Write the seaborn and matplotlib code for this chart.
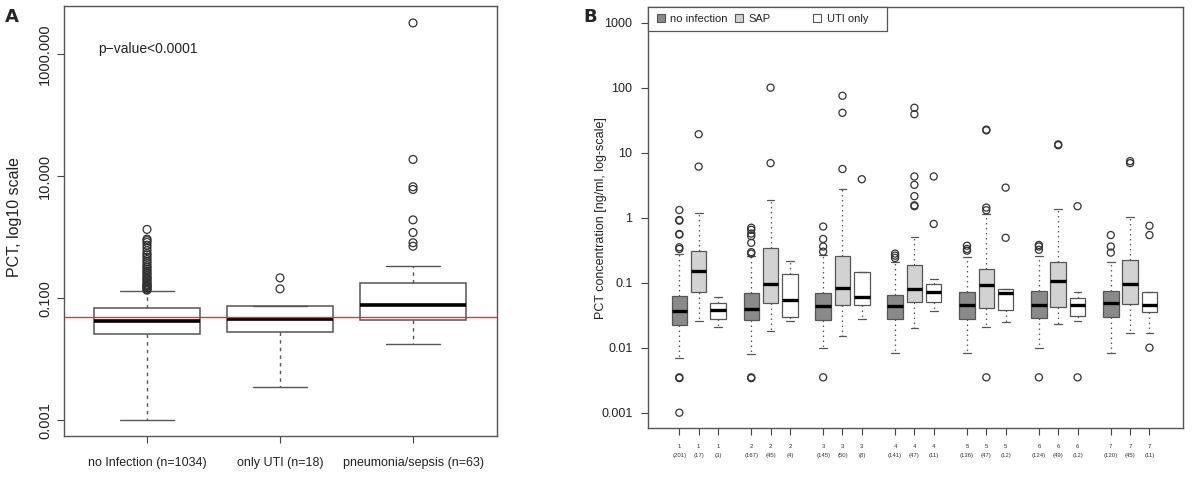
import numpy as np
import pandas as pd
import matplotlib
matplotlib.use("Agg")
import matplotlib.pyplot as plt
from matplotlib.patches import Rectangle
import seaborn as sns

sns.set_style("white")
plt.rcParams['font.family'] = ['Liberation Sans', 'DejaVu Sans']

# ── Panel A: PCT by infection group (box stats) ──
a_labels = ["no Infection (n=1034)", "only UTI (n=18)", "pneumonia/sepsis (n=63)"]
a_whislo = [0.001, 0.0035, 0.018]
a_q1 = [0.026, 0.028, 0.044]
a_med = [0.042, 0.045, 0.077]
a_q3 = [0.069, 0.075, 0.174]
a_whishi = [0.13, 0.075, 0.34]
a_fliers = [
    [0.135, 0.14, 0.145, 0.15, 0.155, 0.16, 0.165, 0.17, 0.18, 0.19, 0.2, 0.21,
     0.22, 0.235, 0.25, 0.265, 0.28, 0.3, 0.32, 0.34, 0.37, 0.4, 0.43, 0.47,
     0.51, 0.54, 0.6, 0.67, 0.74, 0.82, 0.88, 0.93, 1.34],
    [0.142, 0.215],
    [0.71, 0.81, 1.19, 1.92, 6.05, 6.7, 18.8, 3250],
]
a_cutoff = 0.05

# ── Panel B: PCT per day and group ──
b_days = [1, 2, 3, 4, 5, 6, 7]
b_groups = ["no infection", "SAP", "UTI only"]
b_n = {
    "no infection": [201, 167, 145, 141, 136, 124, 120],
    "SAP": [17, 45, 50, 47, 47, 49, 45],
    "UTI only": [3, 4, 8, 11, 12, 12, 11],
}
b_whislo = {
    "no infection": [0.007, 0.008, 0.010, 0.0082, 0.0082, 0.010, 0.0082],
    "SAP": [0.0257, 0.018, 0.015, 0.0204, 0.0206, 0.0234, 0.017],
    "UTI only": [0.0206, 0.026, 0.028, 0.037, 0.0245, 0.0254, 0.017],
}
b_q1 = {
    "no infection": [0.0224, 0.0267, 0.027, 0.0274, 0.0277, 0.0286, 0.0297],
    "SAP": [0.072, 0.049, 0.045, 0.051, 0.041, 0.043, 0.047],
    "UTI only": [0.0277, 0.0297, 0.045, 0.050, 0.0385, 0.031, 0.035],
}
b_med = {
    "no infection": [0.037, 0.040, 0.044, 0.044, 0.045, 0.045, 0.048],
    "SAP": [0.15, 0.094, 0.084, 0.079, 0.093, 0.107, 0.096],
    "UTI only": [0.038, 0.055, 0.060, 0.071, 0.0687, 0.045, 0.046],
}
b_q3 = {
    "no infection": [0.063, 0.0695, 0.070, 0.065, 0.071, 0.074, 0.074],
    "SAP": [0.31, 0.34, 0.26, 0.19, 0.162, 0.206, 0.224],
    "UTI only": [0.048, 0.136, 0.145, 0.094, 0.080, 0.058, 0.072],
}
b_whishi = {
    "no infection": [0.28, 0.26, 0.27, 0.21, 0.25, 0.26, 0.21],
    "SAP": [1.17, 1.87, 2.8, 0.50, 1.13, 1.37, 1.02],
    "UTI only": [0.060, 0.213, 0.145, 0.115, 0.080, 0.072, 0.073],
}
b_fliers = {
    "no infection": [
        [0.0010, 0.0034, 0.0035, 0.33, 0.35, 0.55, 0.56, 0.9, 0.92, 1.31],
        [0.0034, 0.0035, 0.28, 0.295, 0.41, 0.52, 0.57, 0.65, 0.70],
        [0.0035, 0.30, 0.36, 0.47, 0.73],
        [0.24, 0.26, 0.28],
        [0.31, 0.33, 0.37],
        [0.0035, 0.32, 0.36, 0.38],
        [0.29, 0.36, 0.54],
    ],
    "SAP": [
        [6.1, 19.2],
        [6.9, 100],
        [5.6, 41, 75],
        [1.5, 1.55, 2.14, 3.2, 4.3, 39, 49],
        [0.0035, 1.3, 1.43, 22.0, 22.6],
        [13.0, 13.4],
        [6.9, 7.4],
    ],
    "UTI only": [
        [],
        [],
        [3.9],
        [0.80, 4.3],
        [0.49, 2.9],
        [0.0035, 1.5],
        [0.010, 0.54, 0.75],
    ],
}
b_fill = {"no infection": "#8a8a8a", "SAP": "#d2d2d2", "UTI only": "#ffffff"}

edge = "#555555"

fig = plt.figure(figsize=(11.92, 4.8), dpi=100)
axA = fig.add_axes([0.0537, 0.0917, 0.3633, 0.8958])
axB = fig.add_axes([0.5434, 0.1077, 0.4488, 0.8777])

# ── draw A ──
statsA = []
for i in range(len(a_labels)):
    statsA.append(dict(med=a_med[i], q1=a_q1[i], q3=a_q3[i],
                       whislo=a_whislo[i], whishi=a_whishi[i], fliers=[]))
posA = np.arange(len(a_labels))
axA.bxp(statsA, positions=posA, widths=0.8, showfliers=False, patch_artist=True,
        boxprops=dict(facecolor="white", edgecolor=edge, linewidth=1.1),
        medianprops=dict(color="black", linewidth=2.6, solid_capstyle="butt"),
        whiskerprops=dict(color=edge, linewidth=1.0, linestyle=(0, (2.5, 3))),
        capprops=dict(color=edge, linewidth=1.0), capwidths=0.4)
flA = pd.DataFrame([(posA[i], v) for i, f in enumerate(a_fliers) for v in f],
                   columns=["pos", "value"])
sns.scatterplot(data=flA, x="pos", y="value", ax=axA, marker="o", s=32,
                facecolors="none", edgecolor="#333333", linewidth=0.9, zorder=4)
axA.axhline(a_cutoff, color="#ff2a2a", linewidth=1.0, zorder=5)
axA.set_yscale("log")
axA.set_ylim(10 ** -3.26, 10 ** 3.79)
axA.set_xlim(-0.624, 2.632)
axA.set_yticks([0.001, 0.1, 10, 1000])
axA.set_yticklabels(["0.001", "0.100", "10.000", "1000.000"], rotation=90, va="center")
axA.yaxis.set_minor_locator(matplotlib.ticker.NullLocator())
axA.set_xticks(posA)
axA.set_xticklabels(a_labels, fontsize=9)
axA.set_xlabel("")
axA.set_ylabel("PCT, log10 scale", fontsize=11.5, color="#222222")
axA.yaxis.set_label_coords(-0.098, 0.51)
axA.tick_params(axis="y", which="major", direction="out", length=5, width=0.8,
                color="#444444", labelsize=10.5, labelcolor="#222222", left=True)
axA.tick_params(axis="x", which="major", direction="out", length=5, width=0.8,
                color="#444444", labelcolor="#222222", bottom=True, pad=10)
axA.text(0.08, 0.89, "p\u2212value<0.0001", transform=axA.transAxes, fontsize=10,
         color="#222222")

# ── draw B ──
gap = 3.72
for k, g in enumerate(b_groups):
    pos = [d * gap + k for d in range(len(b_days))]
    st = []
    for d in range(len(b_days)):
        st.append(dict(med=b_med[g][d], q1=b_q1[g][d], q3=b_q3[g][d],
                       whislo=b_whislo[g][d], whishi=b_whishi[g][d], fliers=[]))
    axB.bxp(st, positions=pos, widths=0.8, showfliers=False, patch_artist=True,
            boxprops=dict(facecolor=b_fill[g], edgecolor=edge, linewidth=0.9),
            medianprops=dict(color="black", linewidth=2.4, solid_capstyle="butt"),
            whiskerprops=dict(color=edge, linewidth=0.9, linestyle=(0, (1.2, 2.8))),
            capprops=dict(color=edge, linewidth=0.9), capwidths=0.4)

rows = []
for k, g in enumerate(b_groups):
    for d in range(len(b_days)):
        for v in b_fliers[g][d]:
            rows.append((d * gap + k, v))
flB = pd.DataFrame(rows, columns=["pos", "value"])
sns.scatterplot(data=flB, x="pos", y="value", ax=axB, marker="o", s=26,
                facecolors="none", edgecolor="#333333", linewidth=0.9, zorder=4)

axB.set_yscale("log")
axB.set_ylim(10 ** -3.24, 10 ** 3.24)
axB.set_xlim(-1.635, 26.04)
axB.set_yticks([0.001, 0.01, 0.1, 1, 10, 100, 1000])
axB.set_yticklabels(["0.001", "0.01", "0.1", "1", "10", "100", "1000"])
axB.yaxis.set_minor_locator(matplotlib.ticker.NullLocator())
xt, xl = [], []
for d, day in enumerate(b_days):
    for k, g in enumerate(b_groups):
        xt.append(d * gap + k)
        xl.append(f"{day}\n({b_n[g][d]})")
axB.set_xticks(xt)
axB.set_xticklabels(xl, fontsize=4.3, linespacing=2.1, color="#333333")
axB.set_xlabel("")
axB.set_ylabel("PCT concentration [ng/ml, log-scale]", fontsize=9, color="#222222")
axB.yaxis.set_label_coords(-0.077, 0.5)
axB.tick_params(axis="y", direction="out", length=5, width=0.8, color="#444444",
                labelsize=9, labelcolor="#222222", left=True, pad=6)
axB.tick_params(axis="x", direction="out", length=5, width=0.8, color="#444444",
                pad=6, bottom=True)

# legend drawn as in R: equal-width columns in a box at the top left
axB.add_patch(Rectangle((0, 0.943), 0.447, 0.057, transform=axB.transAxes,
                        facecolor="white", edgecolor="#555555", linewidth=0.9,
                        zorder=6, clip_on=False))
leg_sq_x = [0.024, 0.170, 0.317]
for g, lx in zip(b_groups, leg_sq_x):
    axB.add_patch(Rectangle((lx - 0.0075, 0.9635), 0.015, 0.019, transform=axB.transAxes,
                            facecolor=b_fill[g], edgecolor=edge, linewidth=0.8,
                            zorder=7))
    axB.text(lx + 0.0175, 0.9725, g, transform=axB.transAxes, fontsize=8,
             color="#222222", va="center", ha="left", zorder=7)

for ax in (axA, axB):
    for s in ax.spines.values():
        s.set_color("#555555")
        s.set_linewidth(1.0)
        s.set_visible(True)

fig.text(0.004, 0.955, "A", fontsize=13, fontweight="bold", family="DejaVu Sans")
fig.text(0.489, 0.955, "B", fontsize=13, fontweight="bold", family="DejaVu Sans")

fig.savefig("out.png", dpi=100)
